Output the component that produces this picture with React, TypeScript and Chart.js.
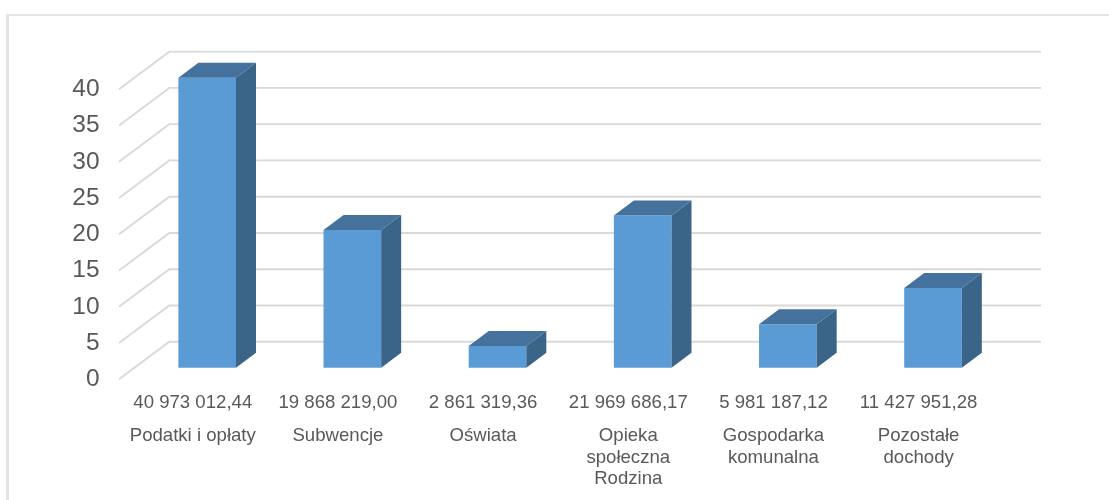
import React, { useEffect, useRef } from "react";
import { Chart, registerables } from "chart.js";

Chart.register(...registerables);

const categories = [
  "Podatki i opłaty",
  "Subwencje",
  "Oświata",
  ["Opieka", "społeczna", "Rodzina"],
  ["Gospodarka", "komunalna"],
  ["Pozostałe", "dochody"],
];
const amountLabels = [
  "40 973 012,44",
  "19 868 219,00",
  "2 861 319,36",
  "21 969 686,17",
  "5 981 187,12",
  "11 427 951,28",
];
const values = [40, 19, 3, 21, 6, 11];
const gridValues = [0, 5, 10, 15, 20, 25, 30, 35, 40];

const FRONT = "#5B9BD5";
const TOP = "#44729D";
const SIDE = "#3A6488";
const GRID = "#D9D9D9";
const TEXT = "#595959";
const FONT = "'Liberation Sans', Arial, sans-serif";

const depthPlugin = {
  id: "depth3d",
  beforeDatasetsDraw(chart: any) {
    const { ctx } = chart;
    const y = chart.scales.y;
    const yFront = chart.scales.yFront;
    ctx.save();
    ctx.strokeStyle = GRID;
    ctx.lineWidth = 1.9;
    for (const v of gridValues) {
      const backY = y.getPixelForValue(v) - 26;
      ctx.beginPath();
      ctx.moveTo(119, yFront.getPixelForValue(v));
      ctx.lineTo(169.3, backY);
      ctx.lineTo(1041, backY);
      ctx.stroke();
    }
    ctx.restore();
  },
  afterDatasetsDraw(chart: any) {
    const { ctx } = chart;
    const dx = 20;
    const dy = 15;
    ctx.save();
    for (const bar of chart.getDatasetMeta(0).data) {
      const l = bar.x - bar.width / 2;
      const r = bar.x + bar.width / 2;
      ctx.fillStyle = TOP;
      ctx.beginPath();
      ctx.moveTo(l, bar.y);
      ctx.lineTo(l + dx, bar.y - dy);
      ctx.lineTo(r + dx, bar.y - dy);
      ctx.lineTo(r, bar.y);
      ctx.closePath();
      ctx.fill();
      ctx.fillStyle = SIDE;
      ctx.beginPath();
      ctx.moveTo(r, bar.y);
      ctx.lineTo(r + dx, bar.y - dy);
      ctx.lineTo(r + dx, bar.base - dy);
      ctx.lineTo(r, bar.base);
      ctx.closePath();
      ctx.fill();
    }
    ctx.restore();
  },
};

export default function App() {
  const ref = useRef<HTMLCanvasElement>(null);
  useEffect(() => {
    document.body.style.margin = "0";
    const chart = new Chart(ref.current as HTMLCanvasElement, {
      type: "bar",
      data: {
        labels: amountLabels,
        datasets: [
          {
            data: values,
            backgroundColor: FRONT,
            barPercentage: 0.397,
            categoryPercentage: 1,
            xAxisID: "x",
            yAxisID: "y",
          },
        ],
      },
      plugins: [depthPlugin],
      options: {
        responsive: false,
        animation: false,
        layout: { padding: { top: 51.7, right: 103.4, bottom: 0, left: 0 } },
        plugins: { legend: { display: false }, tooltip: { enabled: false } },
        scales: {
          x: {
            type: "category",
            position: "bottom",
            labels: amountLabels,
            offset: true,
            grid: { display: false },
            border: { display: false },
            ticks: {
              color: TEXT,
              font: { family: FONT, size: 18.6 },
              labelOffset: -14.4,
              maxRotation: 0,
              autoSkip: false,
              padding: 4,
            },
            afterFit(s: any) {
              s.height = 38;
            },
          },
          xNames: {
            type: "category",
            position: "bottom",
            labels: categories as any,
            offset: true,
            grid: { display: false },
            border: { display: false },
            ticks: {
              color: TEXT,
              font: { family: FONT, size: 18.6, lineHeight: 1.16 },
              labelOffset: -14.4,
              maxRotation: 0,
              autoSkip: false,
              padding: 0,
            },
            afterFit(s: any) {
              s.height = 82.7;
            },
          },
          y: { display: false, min: -1.6, max: 43.58 },
          yFront: {
            position: "left",
            min: 0,
            max: 45.18,
            grid: { display: false },
            border: { display: false },
            afterBuildTicks(s: any) {
              s.ticks = gridValues.map((value) => ({ value }));
            },
            ticks: {
              color: TEXT,
              font: { family: FONT, size: 24.5 },
              padding: 27,
            },
            afterFit(s: any) {
              s.width = 134.6;
            },
          },
        },
      } as any,
    });
    return () => chart.destroy();
  }, []);
  return (
    <div style={{ position: "relative", width: 1109, height: 500, background: "#fff", overflow: "hidden" }}>
      <canvas ref={ref} width={1109} height={500} style={{ display: "block" }} />
      <div
        style={{
          position: "absolute",
          left: 6,
          top: 14,
          width: 1200,
          height: 600,
          borderLeft: "3px solid #E4E4E4",
          borderTop: "2px solid #E4E4E4",
          pointerEvents: "none",
        }}
      />
    </div>
  );
}
